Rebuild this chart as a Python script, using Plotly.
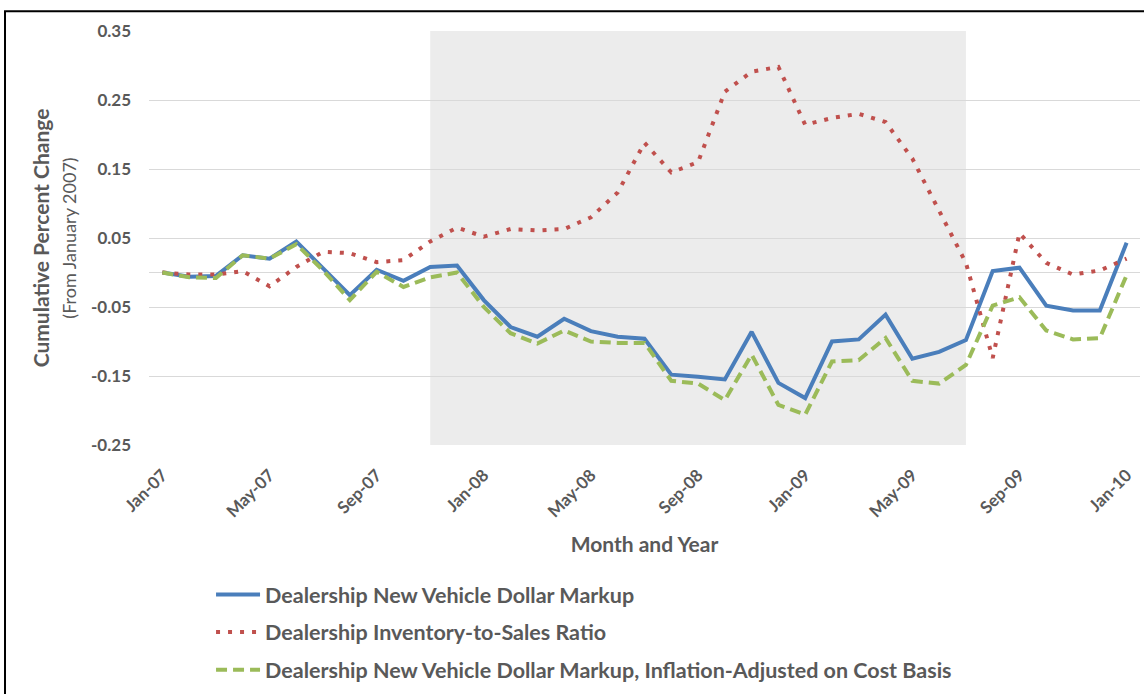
import plotly.graph_objects as go

months = ["Jan-07","Feb-07","Mar-07","Apr-07","May-07","Jun-07","Jul-07","Aug-07","Sep-07","Oct-07","Nov-07","Dec-07",
          "Jan-08","Feb-08","Mar-08","Apr-08","May-08","Jun-08","Jul-08","Aug-08","Sep-08","Oct-08","Nov-08","Dec-08",
          "Jan-09","Feb-09","Mar-09","Apr-09","May-09","Jun-09","Jul-09","Aug-09","Sep-09","Oct-09","Nov-09","Dec-09",
          "Jan-10"]

markup = [0.000, -0.006, -0.005, 0.025, 0.020, 0.045, 0.006, -0.033, 0.004, -0.012, 0.008, 0.010,
          -0.040, -0.079, -0.093, -0.067, -0.085, -0.093, -0.096, -0.148, -0.151, -0.155,
          -0.086, -0.160, -0.182, -0.100, -0.097, -0.061, -0.125, -0.115, -0.098,
          0.002, 0.007, -0.048, -0.055, -0.055, 0.043]

inventory = [0.000, -0.003, -0.003, 0.002, -0.020, 0.008, 0.030, 0.028, 0.015, 0.018, 0.045, 0.065,
             0.052, 0.063, 0.061, 0.063, 0.080, 0.116, 0.188, 0.145, 0.160, 0.262,
             0.291, 0.298, 0.214, 0.224, 0.230, 0.218, 0.165, 0.088, 0.014,
             -0.124, 0.057, 0.014, -0.003, 0.003, 0.020]

markup_adj = [0.000, -0.007, -0.008, 0.025, 0.020, 0.041, 0.003, -0.040, 0.001, -0.021, -0.007, 0.000,
              -0.050, -0.088, -0.103, -0.084, -0.100, -0.102, -0.102, -0.157, -0.161, -0.185,
              -0.119, -0.192, -0.206, -0.129, -0.127, -0.095, -0.157, -0.161, -0.134,
              -0.048, -0.036, -0.084, -0.097, -0.095, -0.004]

tick_labels = months[::4]
y_ticks = [-0.25, -0.15, -0.05, 0.05, 0.15, 0.25, 0.35]
shade_start, shade_end = "Nov-07", "Jul-09"

names = ["Dealership New Vehicle Dollar Markup",
         "Dealership Inventory-to-Sales Ratio",
         "Dealership New Vehicle Dollar Markup, Inflation-Adjusted on Cost Basis"]

FONT = "Lato"
GRAY = "#595959"

fig = go.Figure()
fig.add_trace(go.Scatter(x=months, y=markup, mode="lines", name=names[0],
                         line=dict(color="#4A7EBB", width=4), legend="legend"))
fig.add_trace(go.Scatter(x=months, y=inventory, mode="lines", name=names[1],
                         line=dict(color="#C0504D", width=4, dash="4px,8px"), legend="legend2"))
fig.add_trace(go.Scatter(x=months, y=markup_adj, mode="lines", name=names[2],
                         line=dict(color="#9BBB59", width=4, dash="11px,6px"), legend="legend3"))

fig.add_shape(type="rect", xref="x", yref="paper",
              x0=months.index(shade_start), x1=months.index(shade_end), y0=0, y1=1,
              fillcolor="#ECECEC", line_width=0, layer="below")

# outer frame
fig.add_shape(type="rect", xref="paper", yref="paper",
              x0=-0.1453, x1=1.02, y0=-0.65, y1=1.048,
              line=dict(color="black", width=2), fillcolor="rgba(0,0,0,0)")

legend_common = dict(font=dict(family=FONT, size=21.5, color=GRAY, weight="bold"),
                     bgcolor="rgba(0,0,0,0)", itemwidth=44, xanchor="left", yanchor="middle",
                     x=0.0626, visible=True)

fig.update_layout(
    width=1144, height=694,
    margin=dict(l=149, r=4, t=31, b=247),
    paper_bgcolor="white", plot_bgcolor="white",
    showlegend=True,
    font=dict(family=FONT, color=GRAY),
    legend=dict(**legend_common, y=-0.361),
    legend2=dict(**legend_common, y=-0.452),
    legend3=dict(**legend_common, y=-0.543),
    xaxis=dict(type="category", range=[-0.5, 36.5],
               tickmode="array", tickvals=tick_labels, ticktext=tick_labels,
               tickangle=-45, tickfont=dict(family=FONT, size=17, color=GRAY, weight="bold"),
               showgrid=False, showline=False, ticks="", ticklabelstandoff=16,
               title=dict(text="<b>Month and Year</b>", font=dict(family=FONT, size=21, color=GRAY),
                          standoff=17)),
    yaxis=dict(range=[-0.25, 0.35], tickmode="array", tickvals=y_ticks,
               ticktext=[f"{v:.2f}" for v in y_ticks],
               tickfont=dict(family=FONT, size=17, color=GRAY, weight="bold"),
               showgrid=True, gridcolor="#D9D9D9", gridwidth=1,
               zeroline=True, zerolinecolor="#D9D9D9", zerolinewidth=1,
               showline=False, ticks="", ticklabelstandoff=17,
               title=dict(text="<b>Cumulative Percent Change</b><br><span style='font-size:18px'>(From January 2007)</span>",
                          font=dict(family=FONT, size=21, color=GRAY), standoff=8)),
)

fig.write_html("out.html", config={"displayModeBar": False},
               post_script="document.body.style.margin='0px';")
